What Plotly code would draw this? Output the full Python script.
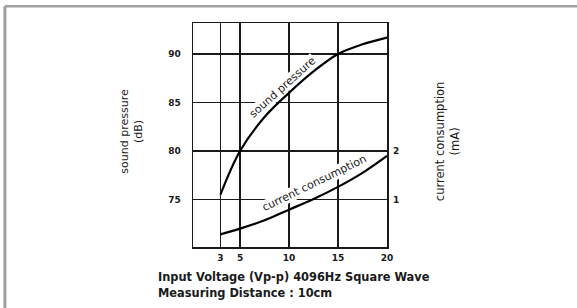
import plotly.graph_objects as go

# Data
voltage = [3, 5, 7.5, 10, 12.5, 15, 17.5, 20]
sound_pressure_db = [75.5, 80.0, 83.5, 86.0, 88.2, 90.0, 91.0, 91.7]
current_ma = [0.28, 0.40, 0.57, 0.79, 1.01, 1.26, 1.55, 1.90]

x_ticks = [3, 5, 10, 15, 20]
y_ticks = [75, 80, 85, 90]
y2_ticks = [1, 2]

FONT = "DejaVu Sans"
INK = "#1a1a1a"

fig = go.Figure()
fig.add_trace(go.Scatter(x=voltage, y=sound_pressure_db, mode="lines",
                         line=dict(color="black", width=2.2, shape="spline", smoothing=1.0),
                         hoverinfo="skip", showlegend=False))
fig.add_trace(go.Scatter(x=voltage, y=current_ma, mode="lines", yaxis="y2",
                         line=dict(color="black", width=2.2, shape="spline", smoothing=1.0),
                         hoverinfo="skip", showlegend=False))

fig.update_layout(
    width=577, height=308,
    margin=dict(l=193, r=190, t=23, b=61),
    paper_bgcolor="white", plot_bgcolor="white",
    font=dict(family=FONT, color=INK),
    xaxis=dict(range=[0.2, 20], tickvals=x_ticks, ticktext=[str(v) for v in x_ticks],
               showgrid=True, gridcolor=INK, gridwidth=1.5,
               showline=True, linecolor=INK, linewidth=1.5, mirror=True,
               zeroline=False, ticks="", ticklabelstandoff=2,
               tickfont=dict(size=9, family=FONT, weight="bold", color=INK)),
    yaxis=dict(range=[70.1, 93.2], tickvals=y_ticks,
               showgrid=True, gridcolor=INK, gridwidth=1.5,
               showline=True, linecolor=INK, linewidth=1.5, mirror=True,
               zeroline=False, ticks="", ticklabelstandoff=9,
               tickfont=dict(size=9, family=FONT, weight="bold", color=INK)),
    yaxis2=dict(range=[0.02, 4.64], tickvals=y2_ticks, overlaying="y", side="right",
                showgrid=False, zeroline=False, showline=False, ticks="",
                ticklabelstandoff=5,
                tickfont=dict(size=9, family=FONT, weight="bold", color=INK)),
)

annos = [
    dict(x=9.3, y=86.6, xref="x", yref="y", text="sound pressure", textangle=-42,
         showarrow=False, font=dict(size=11, family=FONT, color=INK), bgcolor="white", borderpad=0),
    dict(x=12.5, y=76.7, xref="x", yref="y", text="current consumption", textangle=-26,
         showarrow=False, font=dict(size=11, family=FONT, color=INK), bgcolor="white", borderpad=0),
    dict(x=-0.316, y=0.518, xref="paper", yref="paper", xanchor="center", yanchor="middle",
         text="sound pressure<br>(dB)",
         textangle=-90, showarrow=False, font=dict(size=11, family=FONT, color=INK)),
    dict(x=1.31, y=0.473, xref="paper", yref="paper", xanchor="center", yanchor="middle",
         text="current consumption<br>(mA)",
         textangle=-90, showarrow=False, font=dict(size=11.5, family=FONT, color=INK)),
    dict(x=-0.189, y=-0.134, xref="paper", yref="paper", xanchor="left", yanchor="middle",
         text="Input Voltage (Vp-p) 4096Hz Square Wave", showarrow=False,
         font=dict(size=11.4, family=FONT, weight="bold", color=INK)),
    dict(x=-0.189, y=-0.206, xref="paper", yref="paper", xanchor="left", yanchor="middle",
         text="Measuring Distance : 10cm", showarrow=False,
         font=dict(size=11.4, family=FONT, weight="bold", color=INK)),
]
fig.update_layout(annotations=annos)

# outer frame (left and top edges visible in the reference crop)
fig.add_shape(type="line", xref="paper", yref="paper", x0=-0.9695, x1=-0.9695, y0=-0.3, y1=1.0743,
              line=dict(color="#a0a0a0", width=3))
fig.add_shape(type="line", xref="paper", yref="paper", x0=-0.9695, x1=1.99, y0=1.0743, y1=1.0743,
              line=dict(color="#a0a0a0", width=2.5))

fig.write_html("out.html", config={"displayModeBar": False, "staticPlot": True},
               post_script="document.body.style.margin='0px';document.body.style.overflow='hidden';")
